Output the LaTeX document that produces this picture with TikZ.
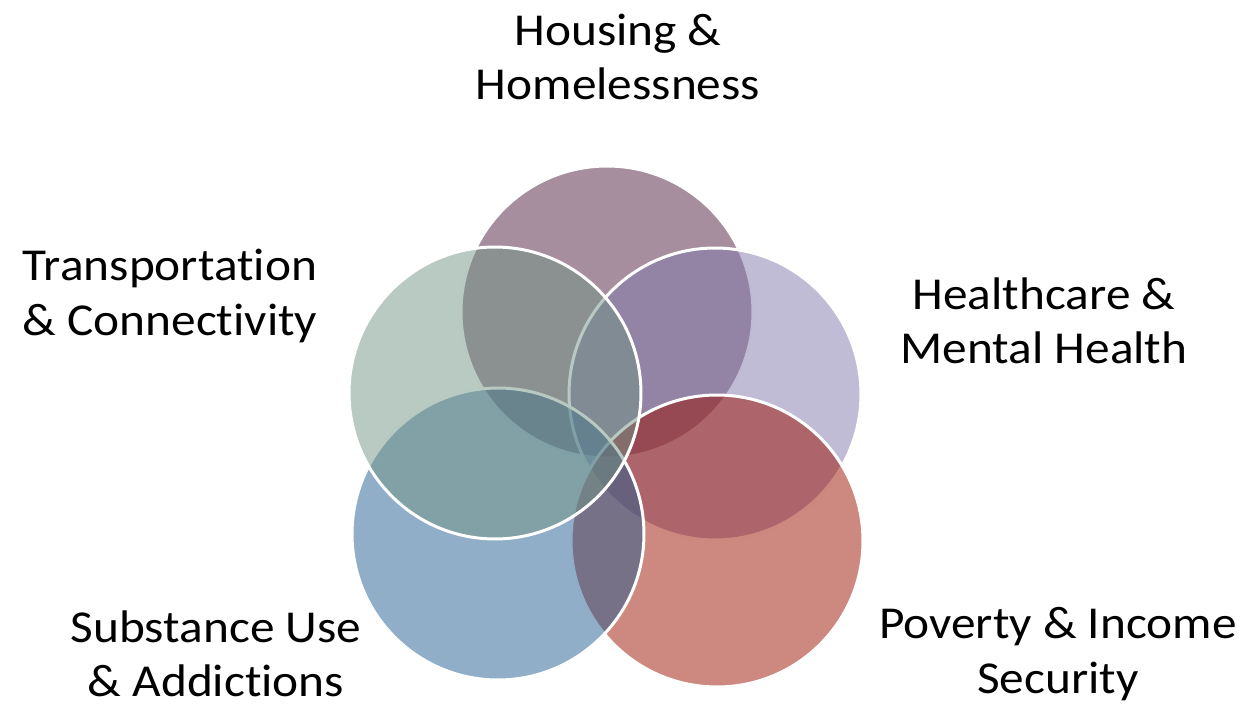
\documentclass[tikz,border=0pt]{standalone}
\usepackage{fontspec}
\setmainfont{Carlito}[FakeStretch=1.08,Ligatures=NoCommon]
\definecolor{housingcol}{RGB}{77,29,61}
\definecolor{healthcol}{RGB}{129,121,173}
\definecolor{povertycol}{RGB}{155,17,1}
\definecolor{substancecol}{RGB}{35,93,145}
\definecolor{transportcol}{RGB}{113,149,133}
\begin{document}
\begin{tikzpicture}[x=0.02cm,y=-0.02cm,
    ring/.style={circle,draw=white,line width=1.7pt,fill opacity=0.5,
      minimum size=5.84cm,inner sep=0pt},
    lbl/.style={align=center,inner sep=0pt,font=\fontsize{26}{31}\selectfont}]
  \useasboundingbox (0,0) rectangle (1245,709);
  % circles, drawn clockwise from the top
  \node[ring,fill=housingcol] (housing) at (607,312) {};
  \node[ring,fill=healthcol] (health) at (715,394) {};
  \node[ring,fill=povertycol] (poverty) at (717,541) {};
  \node[ring,fill=substancecol] (substance) at (498,534) {};
  \node[ring,fill=transportcol] (transport) at (495,393) {};
  % labels
  \node[lbl] (housinglbl) at (618,57) {Housing \&\\Homelessness};
  \node[lbl] (healthlbl) at (1044,321) {Healthcare \&\\Mental Health};
  \node[lbl] (povertylbl) at (1058,654) {Poverty \& Income\\Security};
  \node[lbl] (substancelbl) at (216,654) {Substance Use\\\& Addictions};
  \node[lbl] (transportlbl) at (170,296) {Transportation\\\& Connectivity};
\end{tikzpicture}
\end{document}
